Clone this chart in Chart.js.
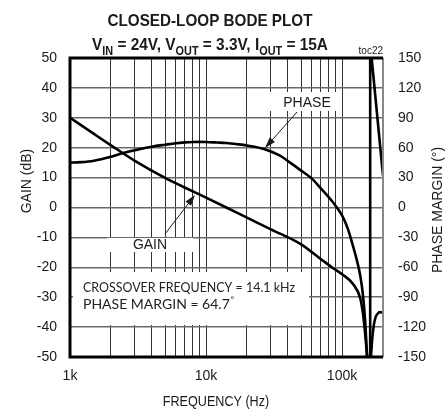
<!DOCTYPE html>
<html>
<head>
<meta charset="utf-8">
<title>Closed-Loop Bode Plot</title>
<script src="https://cdn.jsdelivr.net/npm/chart.js"></script>
<style>
    html, body { margin: 0; padding: 0; background: #fff; }
    #wrap { width: 448px; height: 411px; position: relative; }
</style>
</head>
<body>
<div id="wrap"><canvas id="bode"></canvas></div>
<script>
// gain curve (dB) vs frequency (Hz)
const freqGain = [1000, 1500, 2000, 3000, 5000, 8000, 10000, 14100, 20000, 30000, 50000,
    70000, 86000, 100000, 120000, 136000, 142000, 147000, 151000, 155000, 159000, 163000,
    167000, 171000, 176000, 182000, 190000, 200000];
const gainDb = [30, 24.6, 20.8, 15.6, 9.9, 5.4, 3.3, 0, -3.4, -7.3, -12.3,
    -17.3, -20.3, -22.3, -25.5, -30.3, -35, -41, -47, -53, -56, -50,
    -43.5, -39.5, -36.8, -35.6, -35, -35.2];

// phase margin (deg) vs frequency (Hz)
const freqPhase = [1000, 1200, 1500, 2000, 2500, 3000, 4000, 5000, 6000, 7000, 8000, 9000,
    10000, 12000, 14100, 17000, 20000, 27000, 35000, 41500, 50000, 60000, 69000, 86000,
    100000, 110000, 120000, 128000, 136000, 143000, 148000, 153000, 157000];
const phaseDeg = [45, 45.5, 47, 51, 55, 57.5, 61, 63, 64.5, 65.3, 65.7, 65.8,
    65.7, 65.2, 64.7, 63.5, 62.2, 58.5, 52, 45, 37, 29, 20, 5,
    -8, -21, -38, -52, -68, -90, -115, -150, -165];

// phase wraps from -180 to +180 past the notch
const freqPhaseTail = [161000, 161000, 165000, 200000];
const phaseTailDeg = [-165, 165, 150, 32];

// gridlines and labels
const gridFreqs = [1000, 2000, 3000, 4000, 5000, 6000, 7000, 8000, 9000,
    10000, 20000, 30000, 40000, 50000, 60000, 70000, 80000, 90000, 100000, 200000];
const freqLabelValues = [1000, 10000, 100000];
const freqLabelTexts = ['1k', '10k', '100k'];

const arial = "'Liberation Sans', Arial, sans-serif";
const ink = '#1a1a1a';

function toPoints(xs, ys) {
    return xs.map(function (x, i) { return { x: x, y: ys[i] }; });
}

function arrow(ctx, x1, y1, x2, y2) {
    const a = Math.atan2(y2 - y1, x2 - x1);
    const len = 11, half = 3.5;
    ctx.beginPath();
    ctx.moveTo(x1, y1);
    ctx.lineTo(x2 - Math.cos(a) * len * 0.8, y2 - Math.sin(a) * len * 0.8);
    ctx.stroke();
    ctx.beginPath();
    ctx.moveTo(x2, y2);
    ctx.lineTo(x2 - Math.cos(a) * len - Math.sin(a) * half, y2 - Math.sin(a) * len + Math.cos(a) * half);
    ctx.lineTo(x2 - Math.cos(a) * len + Math.sin(a) * half, y2 - Math.sin(a) * len - Math.cos(a) * half);
    ctx.closePath();
    ctx.fill();
}

// draw text squeezed horizontally so it looks like a narrow face
function narrowText(ctx, text, x, y, squeeze) {
    ctx.save();
    ctx.translate(x, y);
    ctx.scale(squeeze, 1);
    ctx.fillText(text, 0, 0);
    ctx.restore();
}

const bodeDecor = {
    id: 'bodeDecor',
    beforeDatasetsDraw(chart) {
        const ctx = chart.ctx;
        ctx.save();
        ctx.fillStyle = '#fff';
        ctx.fillRect(73, 272, 236, 53);   // crossover note
        ctx.fillRect(266, 92, 74, 19);    // PHASE label
        ctx.fillRect(107, 238, 86, 14);   // GAIN label
        ctx.restore();
    },
    afterDraw(chart) {
        const ctx = chart.ctx;
        const a = chart.chartArea;
        ctx.save();

        // frame
        ctx.strokeStyle = '#888';
        ctx.lineWidth = 2;
        ctx.beginPath();
        ctx.moveTo(a.right, a.top);
        ctx.lineTo(a.right, a.bottom);
        ctx.stroke();
        ctx.strokeStyle = '#000';
        ctx.lineWidth = 3;
        ctx.beginPath();
        ctx.moveTo(a.right, a.top);
        ctx.lineTo(a.left, a.top);
        ctx.lineTo(a.left, a.bottom);
        ctx.lineTo(a.right, a.bottom);
        ctx.stroke();

        ctx.fillStyle = ink;
        ctx.textBaseline = 'alphabetic';

        // title line 1
        ctx.font = 'bold 17px ' + arial;
        ctx.textAlign = 'center';
        ctx.fillText('CLOSED-LOOP BODE PLOT', 210, 26, 205);

        // title line 2 with subscripts
        const parts = [['V', 0], ['IN', 1], [' = 24V, V', 0], ['OUT', 1], [' = 3.3V, I', 0], ['OUT', 1], [' = 15A', 0]];
        const big = 'bold 17px ' + arial, small = 'bold 12px ' + arial;
        let total = 0;
        parts.forEach(function (p) { ctx.font = p[1] ? small : big; total += ctx.measureText(p[0]).width; });
        const sx = Math.min(1, 236 / total);
        ctx.translate(210 - total * sx / 2, 0);
        ctx.scale(sx, 1);
        ctx.textAlign = 'left';
        let cx = 0;
        parts.forEach(function (p) {
            ctx.font = p[1] ? small : big;
            ctx.fillText(p[0], cx, p[1] ? 55 : 50);
            cx += ctx.measureText(p[0]).width;
        });
        ctx.setTransform(1, 0, 0, 1, 0, 0);

        // toc tag
        ctx.font = '10px ' + arial;
        ctx.textAlign = 'right';
        ctx.fillText('toc22', a.right, 54);

        // axis titles
        ctx.font = '14px ' + arial;
        ctx.textAlign = 'center';
        narrowText(ctx, 'FREQUENCY (Hz)', 216, 406, 0.9);
        ctx.save();
        ctx.translate(31, 181);
        ctx.rotate(-Math.PI / 2);
        ctx.fillText('GAIN (dB)', 0, 0);
        ctx.restore();
        ctx.save();
        ctx.translate(442, 210);
        ctx.rotate(-Math.PI / 2);
        ctx.fillText('PHASE MARGIN (\u00B0)', 0, 0);
        ctx.restore();

        // curve labels
        ctx.font = '14px ' + arial;
        ctx.fillText('PHASE', 307, 107);
        ctx.fillText('GAIN', 150, 249);
        ctx.strokeStyle = ink;
        ctx.lineWidth = 1;
        arrow(ctx, 297, 112, 265, 148);
        arrow(ctx, 165, 234, 195, 195);

        // crossover note
        ctx.font = "14px Lato, 'Open Sans', sans-serif";
        ctx.textAlign = 'left';
        ctx.fillStyle = '#222';
        ctx.fillText('CROSSOVER FREQUENCY = 14.1 kHz', 83, 292, 212);
        ctx.fillText('PHASE MARGIN = 64.7', 83, 309);
        const w = ctx.measureText('PHASE MARGIN = 64.7').width;
        ctx.font = "8px Lato, 'Open Sans', sans-serif";
        ctx.fillText('\u00B0', 83 + w + 1, 302);

        ctx.restore();
    }
};

new Chart(document.getElementById('bode'), {
    type: 'line',
    data: {
        datasets: [
            {
                label: 'Gain',
                data: toPoints(freqGain, gainDb),
                yAxisID: 'y',
                borderColor: '#000',
                borderWidth: 2.6,
                pointRadius: 0,
                cubicInterpolationMode: 'monotone'
            },
            {
                label: 'Phase',
                data: toPoints(freqPhase, phaseDeg),
                yAxisID: 'y1',
                borderColor: '#000',
                borderWidth: 2.6,
                pointRadius: 0,
                cubicInterpolationMode: 'monotone'
            },
            {
                label: 'Phase (wrapped)',
                data: toPoints(freqPhaseTail, phaseTailDeg),
                yAxisID: 'y1',
                borderColor: '#000',
                borderWidth: 2.6,
                pointRadius: 0,
                tension: 0
            }
        ]
    },
    options: {
        responsive: true,
        maintainAspectRatio: false,
        animation: false,
        layout: { padding: { top: 58, left: 0, right: 0, bottom: 0 } },
        plugins: {
            legend: { display: false },
            tooltip: { enabled: false }
        },
        scales: {
            x: {
                type: 'logarithmic',
                min: 1000,
                max: 200000,
                afterBuildTicks: function (scale) {
                    scale.ticks = gridFreqs.map(function (v) { return { value: v }; });
                },
                afterFit: function (scale) { scale.height = 54; },
                grid: { color: '#333', lineWidth: 1, drawTicks: false },
                border: { display: false },
                ticks: {
                    autoSkip: false,
                    maxRotation: 0,
                    padding: 11,
                    color: ink,
                    font: { family: arial, size: 14 },
                    callback: function (v) {
                        const i = freqLabelValues.indexOf(v);
                        return i >= 0 ? freqLabelTexts[i] : '';
                    }
                }
            },
            y: {
                position: 'left',
                min: -50,
                max: 50,
                afterFit: function (scale) { scale.width = 70; },
                grid: { color: '#6a6a6a', lineWidth: 1.5, drawTicks: false },
                border: { display: false },
                ticks: {
                    stepSize: 10,
                    padding: 13,
                    color: ink,
                    font: { family: arial, size: 14 }
                }
            },
            y1: {
                position: 'right',
                min: -150,
                max: 150,
                afterFit: function (scale) { scale.width = 65; },
                grid: { display: false, drawTicks: false },
                border: { display: false },
                ticks: {
                    stepSize: 30,
                    padding: 15,
                    color: ink,
                    font: { family: arial, size: 14 }
                }
            }
        }
    },
    plugins: [bodeDecor]
});
</script>
</body>
</html>
